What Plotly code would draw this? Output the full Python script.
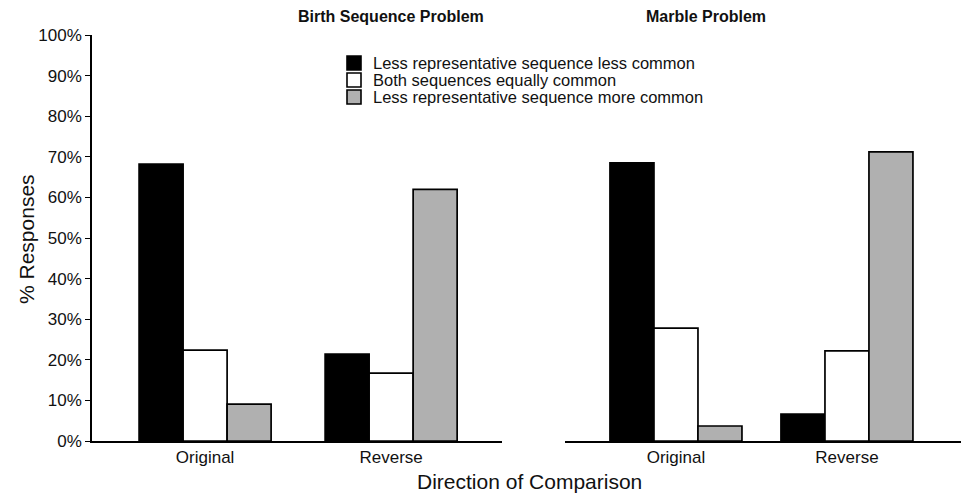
import plotly.graph_objects as go

directions = ["Original", "Reverse"]
series_names = [
    "Less representative sequence less common",
    "Both sequences equally common",
    "Less representative sequence more common",
]
birth_values = [
    [68.2, 21.4],
    [22.4, 16.7],
    [9.1, 62.0],
]
marble_values = [
    [68.5, 6.6],
    [27.8, 22.2],
    [3.7, 71.2],
]
panel_titles = ["Birth Sequence Problem", "Marble Problem"]
y_ticks = list(range(0, 101, 10))
y_ticklabels = [f"{v}%" for v in y_ticks]

colors = ["#000000", "#ffffff", "#b0b0b0"]
FONT = "Arial, Liberation Sans, sans-serif"
TXT = "#111111"

W, H = 961, 493
ML, MR, MT, MB = 92, 0, 35, 52
PW = W - ML - MR
PH = H - MT - MB


def px_x(p):
    return (p - ML) / PW


def px_y(p):
    return (H - MB - p) / PH


fig = go.Figure()

left_w = 44 / 186.0
right_w = 44 / 171.0

for i, name in enumerate(series_names):
    fig.add_trace(go.Bar(
        x=directions, y=birth_values[i], name=name,
        marker=dict(color=colors[i], line=dict(color="#000000", width=1.7)),
        width=left_w, offset=-1.5 * left_w + i * left_w,
        xaxis="x", yaxis="y", showlegend=False,
    ))
for i, name in enumerate(series_names):
    fig.add_trace(go.Bar(
        x=directions, y=marble_values[i], name=name,
        marker=dict(color=colors[i], line=dict(color="#000000", width=1.7)),
        width=right_w, offset=-1.5 * right_w + i * right_w,
        xaxis="x2", yaxis="y2", showlegend=False,
    ))

axis_common = dict(
    showgrid=False, zeroline=False, showline=True, linecolor="#000000", linewidth=1.6,
    tickfont=dict(family=FONT, size=17, color=TXT),
)

# compact legend (swatch + text), as in the reference
shapes = []
annotations = []
leg_x0, leg_sw = 347, 14
leg_rows = [63, 80, 97]
for i, name in enumerate(series_names):
    yc = leg_rows[i]
    shapes.append(dict(
        type="rect", xref="paper", yref="paper",
        x0=px_x(leg_x0), x1=px_x(leg_x0 + leg_sw),
        y0=px_y(yc + leg_sw / 2), y1=px_y(yc - leg_sw / 2),
        fillcolor=colors[i], line=dict(color="#000000", width=1.6),
    ))
    annotations.append(dict(
        text=name, x=px_x(372), y=px_y(yc), xref="paper", yref="paper",
        xanchor="left", yanchor="middle", showarrow=False, borderpad=0,
        font=dict(family=FONT, size=16.5, color=TXT),
    ))

annotations += [
    dict(text="<b>" + panel_titles[0] + "</b>", x=px_x(296), y=px_y(17),
         xref="paper", yref="paper", showarrow=False, yanchor="middle",
         font=dict(family=FONT, size=16, color=TXT)),
    dict(text="<b>" + panel_titles[1] + "</b>", x=px_x(768), y=px_y(17),
         xref="paper", yref="paper", showarrow=False, yanchor="middle",
         font=dict(family=FONT, size=16, color=TXT)),
    dict(text="Direction of Comparison", x=px_x(529), y=px_y(481),
         xref="paper", yref="paper", showarrow=False, yanchor="middle",
         font=dict(family=FONT, size=21, color=TXT)),
    dict(text="% Responses", x=px_x(26), y=px_y(239), textangle=-90,
         xref="paper", yref="paper", showarrow=False,
         xanchor="center", yanchor="middle",
         font=dict(family=FONT, size=21, color=TXT)),
]

fig.update_layout(
    width=W, height=H,
    margin=dict(l=ML, r=MR, t=MT, b=MB),
    paper_bgcolor="white", plot_bgcolor="white",
    barmode="overlay", showlegend=False,
    font=dict(family=FONT, color=TXT),
    xaxis=dict(domain=[0, px_x(502)], range=[-0.608, 1.596], ticks="",
               anchor="y", **axis_common),
    xaxis2=dict(domain=[px_x(565), 1], range=[-0.649, 1.667], ticks="",
                anchor="y2", **axis_common),
    yaxis=dict(range=[0, 100], tickvals=y_ticks, ticktext=y_ticklabels,
               ticks="outside", ticklen=5, tickwidth=1.4, tickcolor="#000000",
               anchor="x", **axis_common),
    yaxis2=dict(range=[0, 100], showticklabels=False, showline=False, showgrid=False,
                zeroline=False, ticks="", anchor="x2"),
    shapes=shapes,
    annotations=annotations,
)

fig.write_html("out.html")
